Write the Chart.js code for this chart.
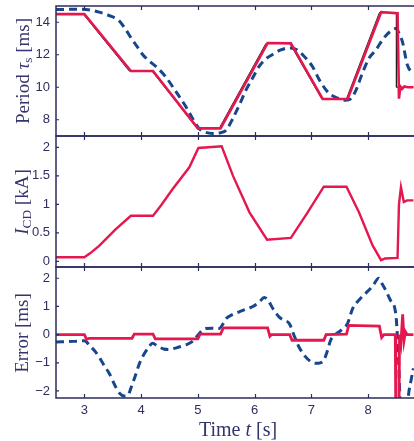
<!DOCTYPE html>
<html><head><meta charset="utf-8">
<script src="https://cdn.jsdelivr.net/npm/chart.js@4"></script>
<style>
html,body{margin:0;padding:0;background:#fff;width:414px;height:441px;overflow:hidden;}
.pane{position:absolute;left:0;width:414px;}
.lbl{position:absolute;font-family:"Liberation Serif","DejaVu Serif",serif;color:#34346c;white-space:nowrap;line-height:1;}
.rot{transform:translate(-50%,-50%) rotate(-90deg);font-size:19px;}
sub{font-size:70%;vertical-align:-0.25em;line-height:0;}
</style></head>
<body>
<div class="pane" style="top:0;height:141px"><canvas id="c1"></canvas></div>
<div class="pane" style="top:131px;height:141px"><canvas id="c2"></canvas></div>
<div class="pane" style="top:262px;height:179px"><canvas id="c3"></canvas></div>
<div class="lbl rot" style="left:22px;top:71px">Period <i>τ</i><sub>s</sub> [ms]</div>
<div class="lbl rot" style="left:21px;top:202px"><i>I</i><sub>CD</sub> [kA]</div>
<div class="lbl rot" style="left:21px;top:333px">Error [ms]</div>
<div class="lbl" style="left:238px;top:419px;font-size:20px;transform:translateX(-50%)">Time <i>t</i> [s]</div>
<script>
// ---- data ----
const xTicks = [3, 4, 5, 6, 7, 8];
const periodTicks = [8, 10, 12, 14];
const currentTicks = [0, 0.5, 1, 1.5, 2];
const errorTicks = [-2, -1, 0, 1, 2];

// Period panel
const refT  = [2.5, 2.98, 3.79, 4.19, 4.98, 5.38, 6.2, 6.62, 7.18, 7.62, 8.2, 8.5, 8.5, 8.8];
const refV  = [14.5, 14.5, 11, 11, 7.5, 7.5, 12.7, 12.7, 9.3, 9.3, 14.6, 14.6, 10, 10];
const measT = [2.5, 3.0, 3.82, 4.21, 5.0, 5.4, 6.23, 6.64, 7.2, 7.64, 8.23, 8.52, 8.545, 8.57, 8.6, 8.64, 8.7, 8.8];
const measV = [14.5, 14.5, 11.0, 11.0, 7.47, 7.47, 12.72, 12.7, 9.28, 9.28, 14.62, 14.55, 9.3, 10.05, 9.9, 10.05, 10.0, 10.0];
const estT  = [2.5, 2.9, 3.1, 3.26, 3.44, 3.61, 3.73, 3.84, 3.94, 4.03, 4.15, 4.26, 4.43, 4.6, 4.79, 4.92, 5.02, 5.12, 5.26, 5.4, 5.5, 5.62, 5.73, 5.85, 5.97, 6.08, 6.2, 6.31, 6.45, 6.6, 6.7, 6.79, 6.9, 7.02, 7.15, 7.31, 7.42, 7.52, 7.6, 7.7, 7.79, 7.9, 8.02, 8.14, 8.26, 8.38, 8.49, 8.55, 8.61, 8.69, 8.8];
const estV  = [14.78, 14.8, 14.75, 14.62, 14.41, 14.1, 13.55, 12.95, 12.45, 12.0, 11.6, 11.28, 10.66, 9.8, 8.8, 8.0, 7.47, 7.25, 7.16, 7.2, 7.36, 8.1, 8.9, 9.84, 10.6, 11.28, 11.75, 12.0, 12.28, 12.42, 12.38, 12.2, 11.8, 11.28, 10.4, 9.63, 9.4, 9.28, 9.2, 9.3, 9.84, 10.87, 11.8, 12.3, 12.95, 13.4, 13.62, 13.3, 12.75, 11.4, 10.8];

// Current panel
const curT = [2.5, 3.0, 3.1, 3.26, 3.55, 3.82, 4.21, 4.35, 4.55, 4.85, 5.01, 5.42, 5.62, 5.91, 6.22, 6.64, 6.93, 7.22, 7.62, 7.84, 8.08, 8.23, 8.3, 8.52, 8.545, 8.58, 8.63, 8.69, 8.8];
const curV = [0.07, 0.07, 0.14, 0.27, 0.56, 0.80, 0.80, 0.98, 1.26, 1.65, 1.99, 2.02, 1.50, 0.86, 0.38, 0.41, 0.85, 1.31, 1.31, 0.86, 0.28, 0.02, 0.05, 0.06, 1.0, 1.30, 1.04, 1.07, 1.07];

// Error panel
const errMT = [2.5, 3.0, 3.04, 3.08, 3.84, 3.88, 4.21, 4.25, 5.0, 5.04, 5.4, 5.45, 6.23, 6.27, 6.3, 6.62, 6.66, 7.22, 7.26, 7.62, 7.66, 8.2, 8.24, 8.28, 8.48, 8.49, 8.545, 8.555, 8.58, 8.61, 8.635, 8.66, 8.69, 8.8];
const errMV = [0, 0, -0.17, -0.13, -0.13, 0.02, 0.02, -0.15, -0.15, 0.02, 0.02, 0.24, 0.24, -0.06, 0.0, 0.0, -0.2, -0.2, 0.0, 0.02, 0.33, 0.3, -0.1, 0.0, 0.0, -3, -3, 0.0, -0.3, 0.72, -0.2, 0.1, 0.0, 0.0];
const errET = [2.5, 2.8, 3.0, 3.1, 3.2, 3.26, 3.35, 3.44, 3.55, 3.62, 3.7, 3.77, 3.82, 3.9, 3.97, 4.05, 4.14, 4.2, 4.3, 4.4, 4.49, 4.6, 4.78, 4.9, 5.0, 5.07, 5.14, 5.25, 5.38, 5.45, 5.5, 5.6, 5.73, 5.85, 5.96, 6.08, 6.17, 6.23, 6.33, 6.43, 6.52, 6.61, 6.7, 6.78, 6.9, 7.0, 7.08, 7.16, 7.22, 7.28, 7.34, 7.42, 7.49, 7.58, 7.64, 7.73, 7.85, 7.96, 8.08, 8.19, 8.25, 8.31, 8.4, 8.47, 8.5, 8.54, 8.58, 8.68, 8.71, 8.76, 8.8];
const errEV = [-0.26, -0.24, -0.22, -0.4, -0.62, -0.79, -1.1, -1.38, -1.85, -2.08, -2.18, -2.15, -1.9, -1.45, -1.03, -0.7, -0.43, -0.31, -0.42, -0.51, -0.53, -0.48, -0.37, -0.25, -0.02, 0.14, 0.22, 0.23, 0.22, 0.4, 0.57, 0.7, 0.81, 0.9, 0.99, 1.15, 1.32, 1.24, 0.9, 0.63, 0.5, 0.4, -0.05, -0.43, -0.79, -0.97, -1.02, -1.0, -0.91, -0.6, -0.2, 0.0, 0.1, 0.25, 0.4, 0.93, 1.25, 1.47, 1.72, 2.0, 1.8, 1.58, 1.2, 0.95, 0.5, -1.0, -3, -3, -2.2, -1.6, -1.2];

// ---- style ----
const X_MIN = 2.5, X_MAX = 8.81;
const AXIS = '#2c2c5e', TXT = '#2e2e60';
const RED = '#e5174f', BLUE = '#17468c', BLACK = '#222';
const tickFont = {family: '"Liberation Sans", Arial, sans-serif', size: 13};

const zip = (t, v) => t.map((x, i) => ({x, y: v[i]}));
const fmt = v => (v < 0 ? '\u2212' + Math.abs(v) : String(v));

const frame = {
  id: 'frame',
  afterDraw(chart) {
    const {ctx, chartArea: {left, right, top, bottom}} = chart;
    const xs = chart.scales.x, ys = chart.scales.y;
    ctx.save();
    ctx.strokeStyle = AXIS; ctx.lineWidth = 1.5;
    ctx.beginPath();
    ctx.moveTo(right + 2, top); ctx.lineTo(left, top);
    ctx.lineTo(left, bottom); ctx.lineTo(right + 2, bottom);
    ctx.stroke();
    ctx.lineWidth = 1.2;
    ctx.beginPath();
    xTicks.forEach(v => {
      const px = Math.round(xs.getPixelForValue(v)) + 0.5;
      ctx.moveTo(px, top); ctx.lineTo(px, top + 4);
      ctx.moveTo(px, bottom); ctx.lineTo(px, bottom - 4);
    });
    ys.ticks.forEach(t => {
      const py = ys.getPixelForValue(t.value);
      ctx.moveTo(left, py); ctx.lineTo(left + 3, py);
    });
    ctx.stroke();
    ctx.restore();
  }
};

function line(t, v, color, width, dash, tension) {
  return {data: zip(t, v), borderColor: color, borderWidth: width, borderDash: dash || [],
          pointRadius: 0, fill: false, tension: tension || 0,
          cubicInterpolationMode: tension ? 'monotone' : 'default'};
}

function makeChart(id, padTop, padBottom, yMin, yMax, yTicks, datasets, showX) {
  return new Chart(document.getElementById(id), {
    type: 'line',
    data: {datasets},
    plugins: [frame],
    options: {
      responsive: true, maintainAspectRatio: false, animation: false,
      layout: {padding: {top: padTop, bottom: padBottom, left: 0, right: 0}},
      plugins: {legend: {display: false}, tooltip: {enabled: false}},
      scales: {
        x: {type: 'linear', min: X_MIN, max: X_MAX, display: showX,
            grid: {display: false, drawTicks: false}, border: {display: false},
            ticks: {font: tickFont, color: TXT, padding: 5, maxRotation: 0, autoSkip: false},
            afterBuildTicks: s => { s.ticks = xTicks.map(v => ({value: v})); },
            afterFit: s => { s.height = showX ? 43 : 0; s.paddingLeft = 0; s.paddingRight = 0; }},
        y: {type: 'linear', min: yMin, max: yMax,
            grid: {display: false, drawTicks: false}, border: {display: false},
            ticks: {font: tickFont, color: TXT, padding: 6, autoSkip: false, callback: v => fmt(v)},
            afterBuildTicks: s => { s.ticks = yTicks.map(v => ({value: v})); },
            afterFit: s => { s.width = 56; s.paddingTop = 0; s.paddingBottom = 0; }}
      }
    }
  });
}

makeChart('c1', 6, 5, 7, 15, periodTicks, [
  line(measT, measV, RED, 2.6),
  line(refT, refV, BLACK, 1),
  line(estT, estV, BLUE, 3, [8, 5], 0.4)
], false);

makeChart('c2', 5, 5, -0.1, 2.2, currentTicks, [
  line(curT, curV, RED, 2.4)
], false);

makeChart('c3', 5, 0, -2.25, 2.4, errorTicks, [
  line(errMT, errMV, RED, 2.8),
  line(errET, errEV, BLUE, 3, [8, 5], 0.4)
], true);
</script>
</body></html>
